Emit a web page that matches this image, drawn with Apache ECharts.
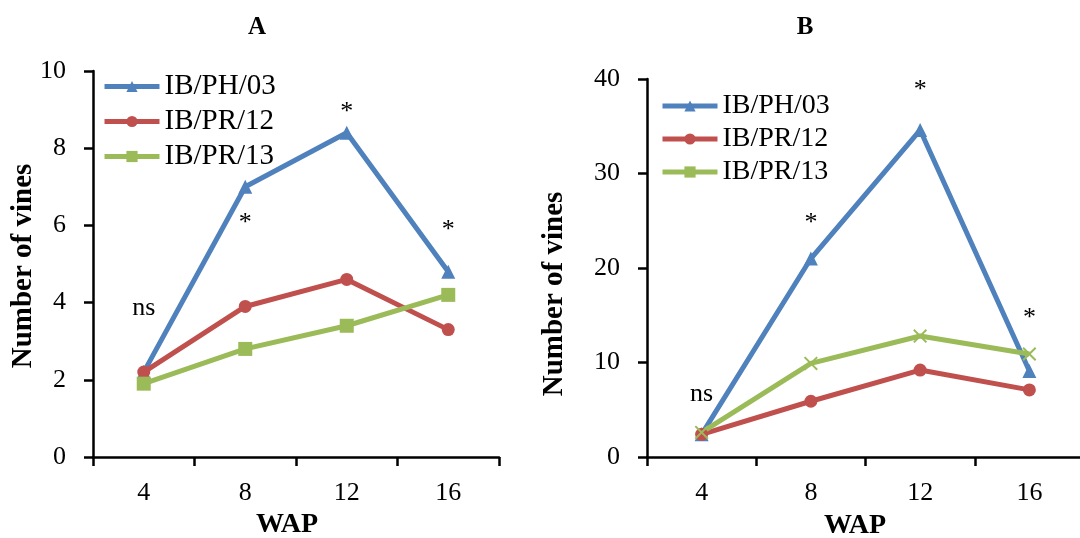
<!DOCTYPE html>
<html>
<head>
<meta charset="utf-8">
<script src="https://cdn.jsdelivr.net/npm/echarts@6/dist/echarts.min.js"></script>
<style>
  html, body { margin: 0; padding: 0; background: #fff; }
  #main { width: 1080px; height: 538px; }
</style>
</head>
<body>
<div id="main"></div>
<script>
// weeks after planting
var weeks = ['4', '8', '12', '16'];
var seriesNames = ['IB/PH/03', 'IB/PR/12', 'IB/PR/13'];

// panel A
var ph03A = [2.2, 7.0, 8.4, 4.8];
var pr12A = [2.2, 3.9, 4.6, 3.3];
var pr13A = [1.9, 2.8, 3.4, 4.2];
var noteA = [['4', 3.86, 'ns'], ['8', 6.2, '*'], ['12', 9.05, '*'], ['16', 6.0, '*']];

// panel B
var ph03B = [2.4, 21.0, 34.6, 9.1];
var pr12B = [2.4, 5.9, 9.2, 7.1];
var pr13B = [2.6, 9.9, 12.8, 10.9];
var noteB = [['4', 6.6, 'ns'], ['8', 25.3, '*'], ['12', 39.3, '*'], ['16', 15.2, '*']];

var FONT = "'Liberation Serif', 'Times New Roman', serif";
var colors = ['#4F81BD', '#C0504D', '#9BBB59'];
var symbols = ['triangle', 'circle', 'rect'];
var crossSym = 'path://M1,0L5,4L9,0L10,1L6,5L10,9L9,10L5,6L1,10L0,9L4,5L0,1Z';

var myChart = echarts.init(document.getElementById('main'));

function makeNotes(list) {
    var out = [];
    for (var i = 0; i < list.length; i++) {
        out.push({
            coord: [list[i][0], list[i][1]],
            name: list[i][2],
            label: { offset: list[i][2] == '*' ? [0, 5] : [0, 0] }
        });
    }
    return out;
}

function lineSeries(idx, grid, data, notes, sym) {
    var s = {
        name: seriesNames[idx],
        type: 'line',
        xAxisIndex: grid,
        yAxisIndex: grid,
        data: data,
        symbol: sym || symbols[idx],
        symbolSize: idx == 1 ? 13 : 14,
        showAllSymbol: true,
        lineStyle: { width: 5, color: colors[idx] },
        itemStyle: { color: colors[idx] },
        animation: false
    };
    if (notes) {
        s.markPoint = {
            symbol: 'circle',
            symbolSize: 1,
            itemStyle: { color: 'rgba(0,0,0,0)' },
            label: {
                show: true,
                position: 'inside',
                formatter: '{b}',
                color: '#000',
                fontFamily: FONT,
                fontSize: 26
            },
            data: makeNotes(notes)
        };
    }
    return s;
}

function xAx(grid, gap, pad) {
    return {
        type: 'category',
        gridIndex: grid,
        data: weeks,
        boundaryGap: true,
        name: 'WAP',
        nameLocation: 'middle',
        nameGap: gap,
        nameTextStyle: { fontFamily: FONT, fontSize: 28, fontWeight: 'bold', color: '#000', padding: [0, pad, 0, 0] },
        axisLine: { lineStyle: { color: '#000', width: 2.5 } },
        axisTick: { show: true, length: 9, lineStyle: { color: '#000', width: 2.5 } },
        axisLabel: { fontFamily: FONT, fontSize: 26, color: '#000', margin: 23 },
        splitLine: { show: false }
    };
}

function yAx(grid, max, step) {
    return {
        type: 'value',
        gridIndex: grid,
        min: 0,
        max: max,
        interval: step,
        axisLine: { show: true, lineStyle: { color: '#000', width: 2.5 } },
        axisTick: { show: true, length: 9, lineStyle: { color: '#000', width: 2.5 } },
        axisLabel: { fontFamily: FONT, fontSize: 26, color: '#000', margin: 27 },
        splitLine: { show: false }
    };
}

function legendAt(left, top, size, gap) {
    return {
        orient: 'vertical',
        left: left,
        top: top,
        data: seriesNames,
        itemWidth: 55,
        itemHeight: 14,
        itemGap: gap,
        lineStyle: { width: 5 },
        textStyle: { fontFamily: FONT, fontSize: size, color: '#000' }
    };
}

var option = {
    backgroundColor: '#fff',
    animation: false,
    title: [
        { text: 'A', left: 252, top: 10, textAlign: 'center',
          textStyle: { fontFamily: FONT, fontSize: 25, fontWeight: 'bold', color: '#000' } },
        { text: 'B', left: 800, top: 10, textAlign: 'center',
          textStyle: { fontFamily: FONT, fontSize: 25, fontWeight: 'bold', color: '#000' } }
    ],
    legend: [legendAt(97, 67, 29, 6), legendAt(655, 87, 28, 5)],
    grid: [
        { left: 93, top: 71, width: 406, height: 386, outerBoundsMode: 'none' },
        { left: 647, top: 79, width: 437, height: 378, outerBoundsMode: 'none' }
    ],
    xAxis: [xAx(0, 48, 18), xAx(1, 55, 21)],
    yAxis: [yAx(0, 10, 2), yAx(1, 40, 10)],
    graphic: [
        { type: 'text', x: 24, y: 266, rotation: Math.PI / 2,
          style: { text: 'Number of vines', font: 'bold 29px ' + FONT, fill: '#000',
                   align: 'center', verticalAlign: 'middle', textAlign: 'center', textVerticalAlign: 'middle' } },
        { type: 'text', x: 555, y: 294, rotation: Math.PI / 2,
          style: { text: 'Number of vines', font: 'bold 29px ' + FONT, fill: '#000',
                   align: 'center', verticalAlign: 'middle', textAlign: 'center', textVerticalAlign: 'middle' } }
    ],
    series: [
        lineSeries(0, 0, ph03A, noteA),
        lineSeries(1, 0, pr12A),
        lineSeries(2, 0, pr13A),
        lineSeries(0, 1, ph03B, noteB),
        lineSeries(1, 1, pr12B),
        lineSeries(2, 1, pr13B, null, crossSym)
    ]
};
myChart.setOption(option);
</script>
</body>
</html>
